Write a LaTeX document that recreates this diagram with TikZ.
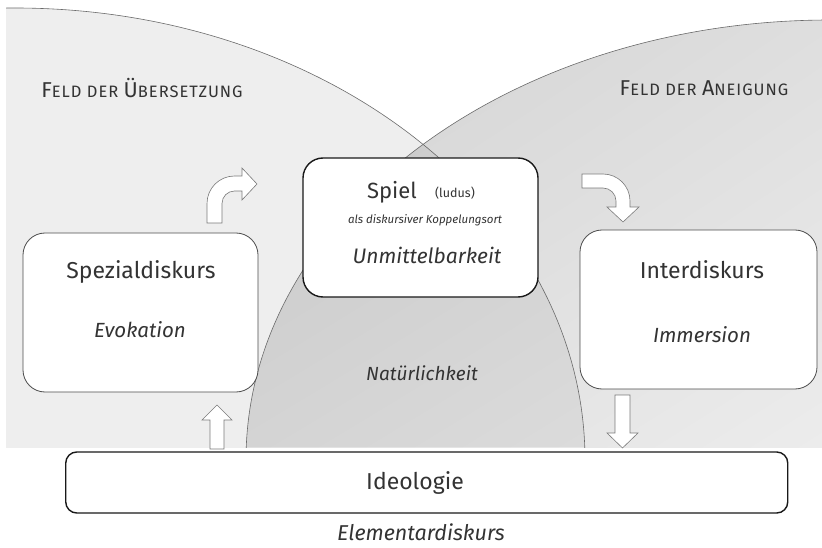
\documentclass[tikz,border=0pt]{standalone}
\usepackage{fontspec}
\usetikzlibrary{shadings}
\setmainfont{Fira Sans}
\definecolor{txt}{HTML}{333333}
\definecolor{leftf}{HTML}{EEEEEE}
\definecolor{rUL}{HTML}{D1D1D1}
\definecolor{rUR}{HTML}{DEDEDE}
\definecolor{rLL}{HTML}{E0E0E0}
\definecolor{rLR}{HTML}{ECECEC}
\definecolor{arc}{HTML}{6A6A6A}
\definecolor{arrowline}{HTML}{7A7A7A}
\newcommand{\fsc}[2]{{\fontsize{21.5}{21.5}\selectfont\addfontfeatures{LetterSpace=6}#1}{\fontsize{16.5}{16.5}\selectfont\addfontfeatures{LetterSpace=6}#2}}
\tikzset{
  box/.style={draw=black!70, line width=0.8pt, fill=white, inner sep=0pt},
  strongbox/.style={draw=black!90, line width=1.4pt, fill=white, inner sep=0pt},
  lbl/.style={text=txt, inner sep=0pt, anchor=center},
  blockarrow/.style={draw=arrowline, line width=0.6pt, fill=white, line join=miter},
  fieldarc/.style={draw=arc, line width=0.6pt}
}
\begin{document}
\begin{tikzpicture}[x=1pt,y=-1pt]
\useasboundingbox (0,0) rectangle (822,548);
% fields
\begin{scope}
  \clip (6,0) rectangle (822,447);
  \fill[leftf] (15,460) ellipse [x radius=570pt, y radius=452pt];
  \begin{scope}
    \clip (830,460) ellipse [x radius=584pt, y radius=440pt];
    \shade[upper left=rUL, upper right=rUR, lower left=rLL, lower right=rLR] (246,20) rectangle (822,447);
    \clip (15,460) ellipse [x radius=570pt, y radius=452pt];
    \fill[black, opacity=0.05] (246,20) rectangle (822,447);
  \end{scope}
  \draw[fieldarc] (15,460) ellipse [x radius=570pt, y radius=452pt];
  \draw[fieldarc] (830,460) ellipse [x radius=584pt, y radius=440pt];
\end{scope}
% field labels
\node[lbl] (fu) at (142,88) {\fsc{F}{ELD DER }\fsc{Ü}{BERSETZUNG}};
\node[lbl] (fa) at (704,88) {\fsc{F}{ELD DER }\fsc{A}{NEIGUNG}};
% boxes
\node[box, minimum width=235pt, minimum height=159pt, rounded corners=22pt] (spez) at (140.5,312.5) {};
\node[box, minimum width=237pt, minimum height=159pt, rounded corners=22pt] (inter) at (698.5,309.5) {};
\node[strongbox, rounded corners=20pt, minimum width=235pt, minimum height=139pt] (spiel) at (420.5,227.5) {};
\node[strongbox, rounded corners=11pt, minimum width=722pt, minimum height=61pt] (ideo) at (426.75,482.5) {};
% texts
\node[lbl, font=\fontsize{23}{23}\selectfont] (spezt) at (141,272) {Spezialdiskurs};
\node[lbl, font=\fontsize{20.5}{20.5}\selectfont\itshape] (evo) at (140,330) {Evokation};
\node[lbl, font=\fontsize{23}{23}\selectfont] (intert) at (702,270) {Interdiskurs};
\node[lbl, font=\fontsize{20.5}{20.5}\selectfont\itshape] (imm) at (702,335) {Immersion};
\node[lbl, font=\fontsize{22}{22}\selectfont] (spielt) at (392,192) {Spiel};
\node[lbl, font=\fontsize{12.5}{12.5}\selectfont] (ludus) at (455,193) {(ludus)};
\node[lbl, font=\fontsize{11.5}{11.5}\selectfont\itshape] (koppel) at (425,220) {als diskursiver Koppelungsort};
\node[lbl, font=\fontsize{21}{21}\selectfont\itshape] (unm) at (427,255) {Unmittelbarkeit};
\node[lbl, font=\fontsize{19}{19}\selectfont\itshape] (nat) at (422,373) {Natürlichkeit};
\node[lbl, font=\fontsize{23}{23}\selectfont] (ideot) at (415,483) {Ideologie};
\node[lbl, font=\fontsize{21.5}{21.5}\selectfont\itshape] (elem) at (421,532) {Elementardiskurs};
% block arrows
\draw[blockarrow] (210,449) -- (210,420) -- (202,420) -- (217,405) -- (232,420) -- (224,420) -- (224,449) -- cycle;
\draw[blockarrow] (615,395) -- (615,433) -- (607,433) -- (622.5,448) -- (638,433) -- (630,433) -- (630,395) -- cycle;
\draw[blockarrow] (207,223) -- (207,203.5) .. controls (207,188.3) and (219.3,176) .. (234.5,176)
  -- (242,176) -- (242,168) -- (257,184) -- (242,200) -- (242,191) -- (234.5,191)
  .. controls (227.6,191) and (222,196.6) .. (222,203.5) -- (222,223) -- cycle;
\draw[blockarrow] (582,174) -- (603,174) .. controls (617.9,174) and (630,186.1) .. (630,201)
  -- (630,207) -- (639,207) -- (623,222) -- (607,207) -- (616,207) -- (616,201)
  .. controls (616,193.8) and (610.2,188) .. (603,188) -- (582,188) -- cycle;
\end{tikzpicture}
\end{document}
